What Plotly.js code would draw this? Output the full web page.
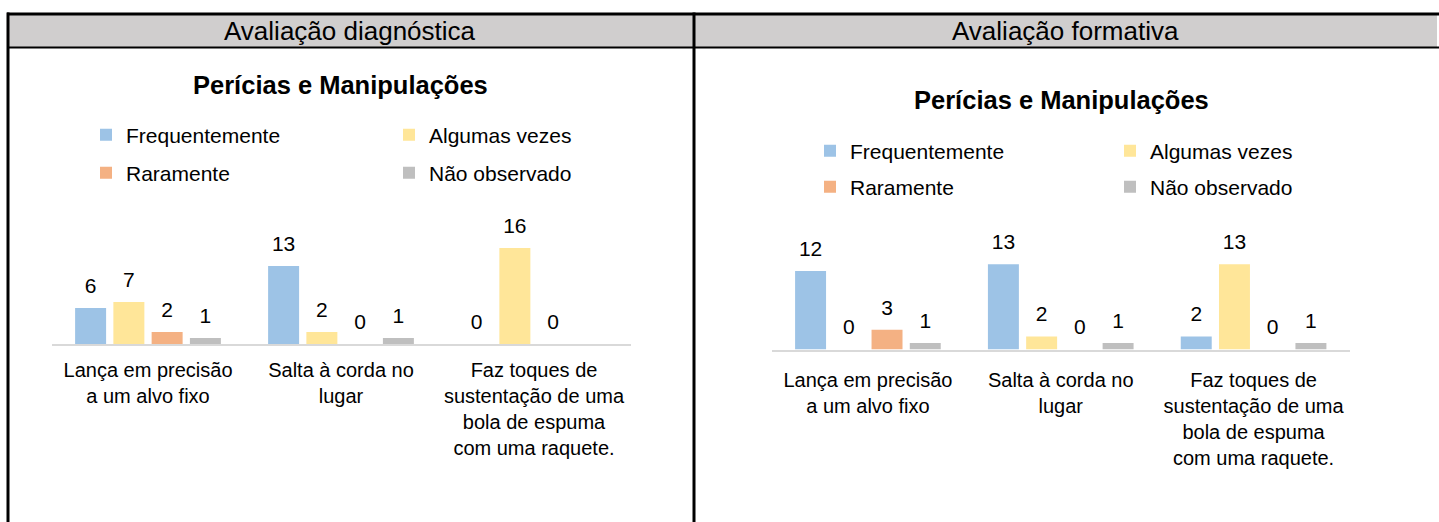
<!DOCTYPE html>
<html>
<head>
<meta charset="utf-8">
<script src="https://cdn.plot.ly/plotly-3.0.1.min.js"></script>
<style>
  html, body { margin: 0; padding: 0; background: #ffffff; }
  #chart { width: 1439px; height: 522px; }
</style>
</head>
<body>
<div id="chart"></div>
<script>
// ---------- data ----------
const headerLabels = ["Avaliação diagnóstica", "Avaliação formativa"];
const chartTitle = "Perícias e Manipulações";
const categories = [
  "Lança em precisão<br>a um alvo fixo",
  "Salta à corda no<br>lugar",
  "Faz toques de<br>sustentação de uma<br>bola de espuma<br>com uma raquete."
];
const seriesNames = ["Frequentemente", "Algumas vezes", "Raramente", "Não observado"];
const seriesColors = ["#9DC3E6", "#FFE699", "#F4B183", "#BFBFBF"];

// Avaliação diagnóstica
const diagFrequentemente = [6, 13, 0];
const diagAlgumasVezes   = [7, 2, 16];
const diagRaramente      = [2, 0, 0];
const diagNaoObservado   = [1, 1, null];

// Avaliação formativa
const formFrequentemente = [12, 13, 2];
const formAlgumasVezes   = [0, 2, 13];
const formRaramente      = [3, 0, 0];
const formNaoObservado   = [1, 1, 1];

const diagSeries = [diagFrequentemente, diagAlgumasVezes, diagRaramente, diagNaoObservado];
const formSeries = [formFrequentemente, formAlgumasVezes, formRaramente, formNaoObservado];

// ---------- layout helpers ----------
const W = 1439, H = 522;
const px = x => x / W;
const py = y => 1 - y / H;
const FONT = "Liberation Sans, Arial, sans-serif";

const traces = [];
function addChart(series, xa, ya, legendIds) {
  series.forEach((vals, i) => {
    traces.push({
      type: "bar", x: categories, y: vals, name: seriesNames[i],
      xaxis: xa, yaxis: ya, legend: legendIds[i],
      marker: { color: seriesColors[i], line: { width: 0 } },
      hoverinfo: "skip"
    });
  });
  series.forEach((vals, i) => {
    traces.push({
      type: "scatter", mode: "markers+text", x: categories, y: vals,
      xaxis: xa, yaxis: ya, showlegend: false,
      marker: { size: 14, opacity: 0 },
      text: vals.map(v => v === null ? "" : String(v)),
      textposition: "top center",
      textfont: { family: FONT, size: 21, color: "#000000" },
      cliponaxis: false, hoverinfo: "skip"
    });
  });
}
addChart(diagSeries, "x", "y", ["legend", "legend2", "legend3", "legend4"]);
addChart(formSeries, "x2", "y2", ["legend5", "legend6", "legend7", "legend8"]);

function legendAt(x, y) {
  return {
    x: px(x), y: py(y), xanchor: "left", yanchor: "middle",
    orientation: "h", bgcolor: "rgba(0,0,0,0)", borderwidth: 0,
    font: { family: FONT, size: 21, color: "#000000" }
  };
}

const xaxisCommon = {
  type: "category", showline: true, linecolor: "#D9D9D9", linewidth: 2,
  showgrid: false, zeroline: false, ticks: "", tickangle: 0,
  tickfont: { family: FONT, size: 20, color: "#000000" }, fixedrange: true
};
const yaxisCommon = {
  range: [0, 18], visible: false, showgrid: false, zeroline: false, fixedrange: true
};

const black = { color: "#000000", width: 3 };
const layout = {
  width: W, height: H,
  margin: { l: 0, r: 0, t: 0, b: 0, pad: 0 },
  paper_bgcolor: "#ffffff", plot_bgcolor: "rgba(0,0,0,0)",
  barmode: "group", bargap: 0.207, bargroupgap: 0.19,
  scattermode: "group", scattergap: 0.207,
  showlegend: true,
  font: { family: FONT, color: "#000000" },
  xaxis:  Object.assign({}, xaxisCommon, { domain: [px(51.5), px(630.5)], anchor: "y", ticklabelstandoff: 7 }),
  yaxis:  Object.assign({}, yaxisCommon, { domain: [py(344), py(236)], anchor: "x" }),
  xaxis2: Object.assign({}, xaxisCommon, { domain: [px(771.5), px(1350)], anchor: "y2", ticklabelstandoff: 11 }),
  yaxis2: Object.assign({}, yaxisCommon, { domain: [py(349.5), py(231.6)], anchor: "x2" }),
  legend:  legendAt(86, 135),
  legend2: legendAt(389, 135),
  legend3: legendAt(86, 173),
  legend4: legendAt(389, 173),
  legend5: legendAt(810, 151),
  legend6: legendAt(1110, 151),
  legend7: legendAt(810, 187),
  legend8: legendAt(1110, 187),
  shapes: [
    { type: "rect", xref: "paper", yref: "paper", x0: px(9), x1: px(1437), y0: py(47), y1: py(15),
      fillcolor: "#D0CECE", line: { width: 0 }, layer: "below" },
    { type: "line", xref: "paper", yref: "paper", x0: px(7), x1: px(1439), y0: py(14), y1: py(14), line: black },
    { type: "line", xref: "paper", yref: "paper", x0: px(7), x1: px(1439), y0: py(47.5), y1: py(47.5), line: { color: "#000000", width: 2 } },
    { type: "line", xref: "paper", yref: "paper", x0: px(8), x1: px(8), y0: py(12.5), y1: py(522), line: black },
    { type: "line", xref: "paper", yref: "paper", x0: px(694), x1: px(694), y0: py(12.5), y1: py(522), line: black }
  ],
  annotations: [
    { text: headerLabels[0], xref: "paper", yref: "paper", x: px(350), y: py(31), showarrow: false,
      xanchor: "center", yanchor: "middle", font: { family: FONT, size: 26, color: "#000000" } },
    { text: headerLabels[1], xref: "paper", yref: "paper", x: px(1065), y: py(31), showarrow: false,
      xanchor: "center", yanchor: "middle", font: { family: FONT, size: 26, color: "#000000" } },
    { text: "<b>" + chartTitle + "</b>", xref: "paper", yref: "paper", x: px(340), y: py(85), showarrow: false,
      xanchor: "center", yanchor: "middle", font: { family: FONT, size: 25.5, color: "#000000" } },
    { text: "<b>" + chartTitle + "</b>", xref: "paper", yref: "paper", x: px(1061), y: py(100), showarrow: false,
      xanchor: "center", yanchor: "middle", font: { family: FONT, size: 25.5, color: "#000000" } }
  ]
};

Plotly.newPlot("chart", traces, layout, { staticPlot: true, displayModeBar: false });
</script>
</body>
</html>
